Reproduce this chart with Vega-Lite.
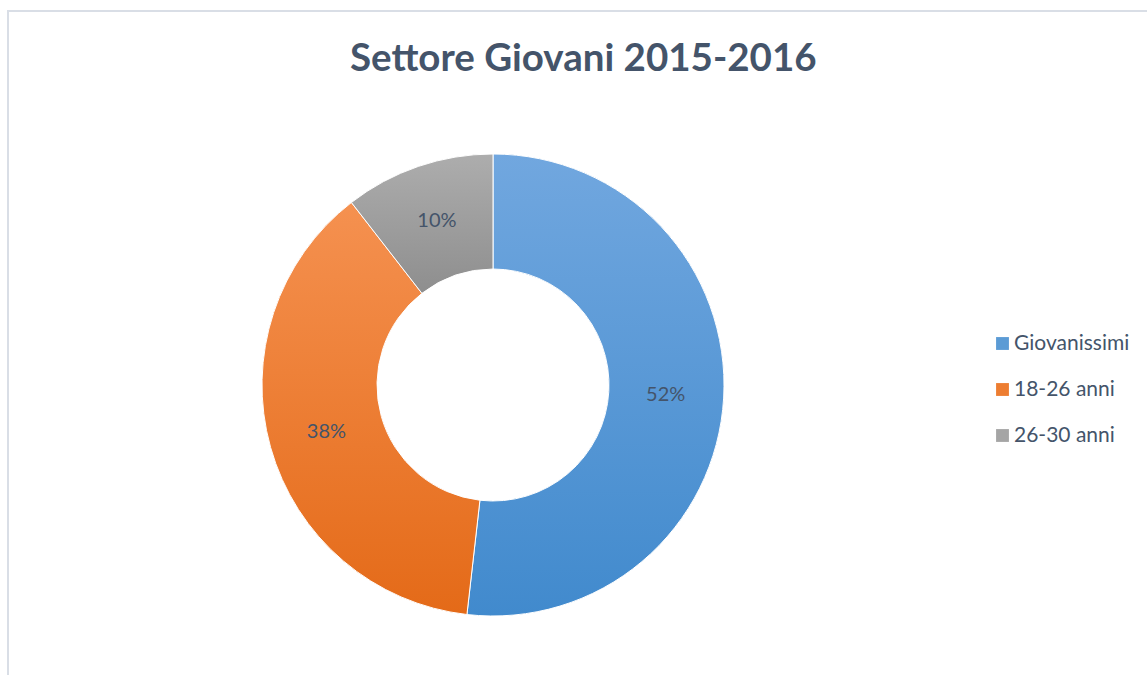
{
  "$schema": "https://vega.github.io/schema/vega-lite/v6.json",
  "autosize": "none",
  "padding": {"left": 8, "top": 11, "right": 0, "bottom": 0},
  "width": 1160,
  "height": 700,
  "background": "white",
  "config": {
    "view": {"stroke": "#D9DEE6", "strokeWidth": 2},
    "font": "Lato"
  },
  "title": {
    "text": "Settore Giovani 2015-2016",
    "font": "Lato",
    "fontSize": 38.5,
    "fontWeight": "bold",
    "color": "#44546A",
    "anchor": "start",
    "dx": 342,
    "offset": -98,
    "baseline": "alphabetic"
  },
  "data": {
    "values": [
      {"cat": "Giovanissimi", "v": 51.8, "lab": "52%", "o": 1},
      {"cat": "18-26 anni", "v": 37.7, "lab": "38%", "o": 2},
      {"cat": "26-30 anni", "v": 10.5, "lab": "10%", "o": 3}
    ]
  },
  "encoding": {
    "theta": {"field": "v", "type": "quantitative", "stack": true},
    "order": {"field": "o", "type": "quantitative"},
    "x": {"value": 485},
    "y": {"value": 374}
  },
  "layer": [
    {
      "mark": {"type": "arc", "outerRadius": 231, "innerRadius": 116},
      "encoding": {
        "color": {
          "field": "cat",
          "type": "nominal",
          "sort": ["Giovanissimi", "18-26 anni", "26-30 anni"],
          "scale": {
            "domain": ["Giovanissimi", "18-26 anni", "26-30 anni"],
            "range": ["#5B9BD5", "#ED7D31", "#A5A5A5"]
          },
          "legend": {
            "orient": "none",
            "legendX": 984,
            "legendY": 322,
            "title": null,
            "symbolType": "square",
            "symbolSize": 165,
            "symbolStrokeWidth": 0,
            "labelFont": "Lato",
            "labelFontSize": 21,
            "labelColor": "#44546A",
            "rowPadding": 24,
            "labelOffset": 1
          }
        }
      }
    },
    {
      "mark": {"type": "arc", "outerRadius": 231, "innerRadius": 116, "stroke": "white", "strokeWidth": 1},
      "encoding": {
        "fill": {
          "condition": [
            {"test": "datum.cat === 'Giovanissimi'", "value": {"gradient": "linear", "x1": 0, "y1": 0, "x2": 0, "y2": 1, "stops": [{"offset": 0, "color": "#71A7DF"}, {"offset": 1, "color": "#418ACD"}]}},
            {"test": "datum.cat === '18-26 anni'", "value": {"gradient": "linear", "x1": 0, "y1": 0, "x2": 0, "y2": 1, "stops": [{"offset": 0, "color": "#F59150"}, {"offset": 1, "color": "#E46A18"}]}}
          ],
          "value": {"gradient": "linear", "x1": 0, "y1": 0, "x2": 0, "y2": 1, "stops": [{"offset": 0, "color": "#ADADAD"}, {"offset": 1, "color": "#8E8E8E"}]}
        }
      }
    },
    {
      "mark": {"type": "text", "radius": 173, "font": "Lato", "fontSize": 20, "color": "#44546A", "align": "center", "baseline": "middle"},
      "encoding": {
        "text": {"field": "lab", "type": "nominal"}
      }
    }
  ]
}
